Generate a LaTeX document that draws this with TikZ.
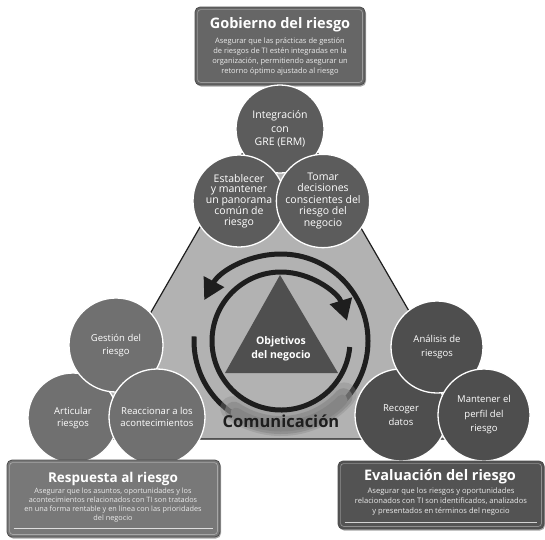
\documentclass[tikz,border=0pt]{standalone}
\usepackage{fontspec}
\setmainfont{Open Sans}
\usetikzlibrary{arrows.meta,shadows}
\definecolor{bigtri}{HTML}{B2B2B2}
\definecolor{ink}{HTML}{1E1E1E}
\definecolor{topc}{HTML}{5C5C5C}
\definecolor{topb}{HTML}{666666}
\definecolor{leftc}{HTML}{707070}
\definecolor{leftb}{HTML}{787878}
\definecolor{rightc}{HTML}{4E4E4E}
\definecolor{rightb}{HTML}{535353}
\definecolor{coretri}{HTML}{4F4F4F}
\definecolor{glowc}{HTML}{858585}
\definecolor{boxtext}{HTML}{EBEBEB}
\begin{document}
\begin{tikzpicture}[x=1pt,y=-1pt,
  circ/.style={circle, draw=white, line width=1.3pt, inner sep=0pt, minimum size=#1, align=center, text=white},
  box/.style={rounded corners=5pt, draw=black!70, line width=0.8pt, inner sep=0pt,
    drop shadow={shadow xshift=1pt, shadow yshift=-1.5pt, fill=black, opacity=0.35}},
  frame/.style={draw=white, draw opacity=0.35, line width=0.7pt, rounded corners=3pt},
  uline/.style={draw=white, draw opacity=0.75, line width=0.9pt},
  boxtitle/.style={text=white, font=\bfseries\fontsize{14.5}{16}\selectfont, inner sep=0pt},
  boxbody/.style={text=boxtext, align=center, inner sep=0pt},
  ring/.style={draw=ink, line width=5pt},
  tip/.style={-{Triangle[length=21pt,width=22pt]}},
  glowband/.style={draw=glowc, line cap=round}
]
\useasboundingbox (0,0) rectangle (545,539);

% big background triangle
\filldraw[fill=bigtri, draw=ink, line width=1.2pt] (280,88) -- (483,439) -- (78,439) -- cycle;

% rings
\coordinate (c) at (281,341);
\draw[ring, tip] (c) ++(-177:87) arc[start angle=-177, end angle=-512, radius=87];
\draw[glowband, line width=24pt, draw opacity=0.35] (c) ++(-234:83) arc[start angle=-234, end angle=-320, radius=83];
\draw[glowband, line width=18pt, draw opacity=0.6] (c) ++(-236:84) arc[start angle=-236, end angle=-318, radius=84];
\draw[glowband, line width=11pt] (c) ++(-238:85) arc[start angle=-238, end angle=-316, radius=85];
\draw[ring, tip] (c) ++(5:69) arc[start angle=5, end angle=343, radius=69];

% central triangle
\fill[coretri] (280,275) -- (338,373) -- (225,373) -- cycle;
\node[text=white, align=center, font=\bfseries\fontsize{10.5}{13.5}\selectfont] (obj) at (281,349) {Objetivos\\del negocio};
\node[text=ink, font=\bfseries\fontsize{16.5}{18}\selectfont, inner sep=0pt] (comm) at (281,421) {Comunicación};

% top group
\node[box, fill=topb, minimum width=170pt, minimum height=78pt] (gov) at (280,46) {};
\draw[frame] ([shift={(3pt,-3pt)}]gov.north west) rectangle ([shift={(-3pt,3pt)}]gov.south east);
\node[boxtitle] (govt) at (280,24.5) {Gobierno del riesgo};
\node[boxbody, font=\fontsize{7.5}{10}\selectfont] (govb) at (280,56.5) {Asegurar que las prácticas de gestión\\de riesgos de TI estén integradas en la\\organización, permitiendo asegurar un\\retorno óptimo ajustado al riesgo};

\node[circ=88pt, fill=topc, font=\fontsize{10.5}{13.3}\selectfont] (erm) at (280,129) {Integración\\con\\GRE (ERM)};
\node[circ=92pt, fill=topc, font=\fontsize{10.5}{10.5}\selectfont] (pan) at (239,201) {Establecer\\y mantener\\un panorama\\común de\\riesgo};
\node[circ=92pt, fill=topc, font=\fontsize{10.5}{11.5}\selectfont] (dec) at (323,201) {Tomar\\decisiones\\conscientes del\\riesgo del\\negocio};

% left group
\node[circ=90pt, fill=leftc, font=\fontsize{9.5}{12}\selectfont] (art) at (73,418) {Articular\\riesgos};
\node[circ=94pt, fill=leftc, font=\fontsize{9.5}{13}\selectfont] (ges) at (116,345) {Gestión del\\riesgo};
\node[circ=96pt, fill=leftc, font=\fontsize{9.5}{12.5}\selectfont] (rea) at (157,417) {Reaccionar a los\\acontecimientos};

\node[box, fill=leftb, minimum width=213pt, minimum height=77pt] (resp) at (113.5,498.5) {};
\draw[frame] ([shift={(3pt,-3pt)}]resp.north west) rectangle ([shift={(-3pt,3pt)}]resp.south east);
\draw[uline] ([shift={(7pt,9pt)}]resp.south west) -- ([shift={(-7pt,9pt)}]resp.south east);
\node[boxtitle, font=\bfseries\fontsize{13.5}{15}\selectfont] (respt) at (113,478.5) {Respuesta al riesgo};
\node[boxbody, font=\fontsize{7.3}{9}\selectfont] (respb) at (113,505) {Asegurar que los asuntos, oportunidades y los\\acontecimientos relacionados con TI son tratados\\en una forma rentable y en línea con las prioridades\\del negocio};

% right group
\node[circ=92pt, fill=rightc, font=\fontsize{9.5}{14.5}\selectfont] (rec) at (401,415) {Recoger\\datos};
\node[circ=92pt, fill=rightc, font=\fontsize{9.5}{14.5}\selectfont] (ana) at (437,347) {Análisis de\\riesgos};
\node[circ=92pt, fill=rightc, font=\fontsize{9.5}{14.5}\selectfont] (man) at (484,415) {Mantener el\\perfil del\\riesgo};

\node[box, fill=rightb, minimum width=206pt, minimum height=68pt] (eva) at (441,495) {};
\draw[frame] ([shift={(3pt,-3pt)}]eva.north west) rectangle ([shift={(-3pt,3pt)}]eva.south east);
\draw[uline] ([shift={(7pt,7pt)}]eva.south west) -- ([shift={(-7pt,7pt)}]eva.south east);
\node[boxtitle] (evat) at (440,476.5) {Evaluación del riesgo};
\node[boxbody, font=\fontsize{7.6}{10}\selectfont] (evab) at (441,501.5) {Asegurar que los riesgos y oportunidades\\relacionados con TI son identificados, analizados\\y presentados en términos del negocio};
\end{tikzpicture}
\end{document}
